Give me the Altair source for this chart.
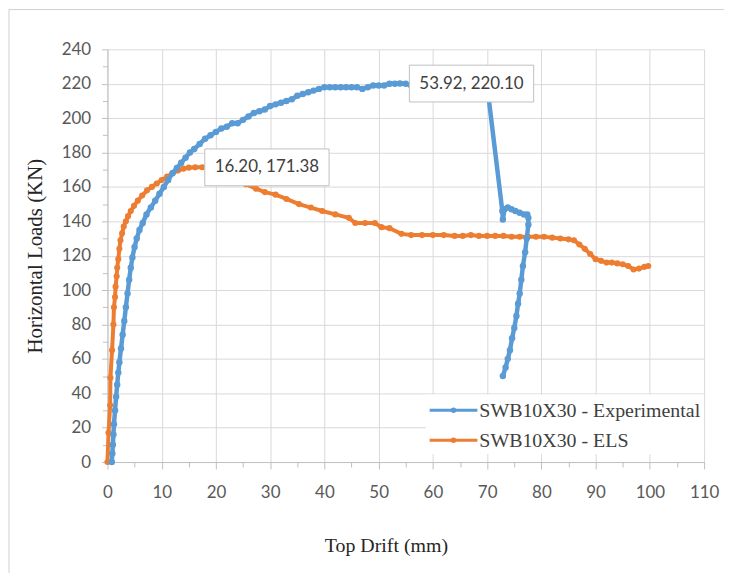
import altair as alt
import pandas as pd

# ---------------- data ----------------
exp_x = [0.8, 0.9, 1.0, 1.1, 1.2, 1.4, 1.6, 1.8, 2.0, 2.2, 2.5, 2.8, 3.1, 3.4, 3.7, 4.0, 4.3, 4.6,
         5.0, 5.4, 5.9, 6.5, 7.2, 8.0, 8.8, 9.6, 10.4, 11.2, 12.0, 12.8, 13.6, 14.4, 15.2, 16.0,
         17.0, 18.0, 19.0, 20.0, 21.0, 22.0, 23.0, 24.0, 25.0, 26.0, 27.0, 28.0, 29.0, 30.0, 31.0,
         32.0, 33.0, 34.0, 35.0, 36.0, 37.0, 38.0, 39.0, 40.0, 41.0, 42.0, 43.0, 44.0, 45.0, 46.0,
         47.0, 48.0, 49.0, 50.0, 51.0, 52.0, 53.0, 53.92, 55.0, 56.0, 58.0, 62.0, 66.0, 70.0,
         72.8, 72.9, 73.2, 73.8, 74.5, 75.2, 76.0, 76.8, 77.4, 77.6, 77.6, 77.3, 77.0, 76.6, 76.3,
         76.0, 75.7, 75.4, 75.0, 74.6, 74.2, 73.8, 73.4, 72.9]
exp_y = [0, 5, 10, 16, 22, 30, 38, 45, 52, 58, 66, 74, 82, 90, 98, 106, 113, 119,
         125, 130, 135, 139, 144, 148, 152, 156, 160, 164, 168, 171, 174, 177, 180, 182,
         185, 188, 190, 192, 194, 195, 197, 197, 199, 201, 203, 204, 205, 207, 208,
         209, 210, 211, 213, 214, 215, 216, 217, 218, 218, 218, 218, 218, 218, 218,
         217, 218, 219, 219, 219, 220, 220, 220.1, 220, 219, 220, 220, 220, 219,
         146, 141, 147, 148, 147, 146, 145, 144, 144, 142, 138, 130, 122, 114, 106,
         98, 92, 85, 78, 72, 65, 60, 55, 50]

els_x = [0.0, 0.2, 0.5, 0.55, 0.85, 1.1, 1.2, 1.4, 1.5, 1.7, 1.8, 2.0, 2.2, 2.4, 2.7, 3.0, 3.4,
         3.8, 4.3, 4.9, 5.6, 6.4, 7.3, 8.2, 9.1, 10.0, 11.0, 12.0, 13.0, 14.0, 15.0, 16.2, 17.5,
         19.0, 20.5, 22.0, 24.0, 25.5, 27.4, 29.0, 31.0, 33.0, 35.3, 37.5, 39.6, 42.0, 44.5,
         45.7, 47.5, 49.3, 50.5, 52.0, 54.2, 56.0, 58.0, 60.0, 62.0, 64.0, 65.5, 67.0, 68.5,
         70.0, 71.5, 73.0, 74.5, 76.0, 77.5, 79.0, 80.5, 82.0, 83.5, 85.0, 86.0, 87.0, 88.0,
         89.0, 90.0, 91.0, 92.0, 93.0, 94.0, 95.0, 96.0, 97.0, 98.0, 99.0, 99.7]
els_y = [0, 17, 33, 49, 65, 80, 90, 96, 102, 108, 113, 118, 124, 129, 133, 137, 140,
         143, 146, 149, 152, 155, 158, 160, 162, 164, 166, 168, 169.5, 170.6, 171.2, 171.38, 171.4,
         171.4, 171.0, 169.0, 165.0, 161.5, 159.0, 157.0, 155.5, 153.0, 150.0, 148.0, 146.0, 144.0, 142.0,
         139.0, 139.0, 139.0, 136.6, 136.0, 132.7, 132.0, 132.0, 132.0, 132.0, 131.5, 131.5, 132.0, 131.5,
         131.5, 131.5, 131.5, 131.0, 131.0, 131.0, 131.0, 131.0, 130.5, 130.0, 129.5, 129.0, 126.5, 124.0,
         121.0, 118.0, 117.0, 116.0, 116.0, 115.5, 115.0, 114.0, 112.0, 112.5, 113.5, 114.0]

series_names = ["SWB10X30 - Experimental", "SWB10X30 - ELS"]
series_colors = ["#5B9BD5", "#ED7D31"]

ann_x = [53.92, 16.20]
ann_y = [220.10, 171.38]
ann_text = ["53.92, 220.10", "16.20, 171.38"]

x_ticks = list(range(0, 111, 5))
y_ticks = list(range(0, 241, 10))

# ---------------- layout ----------------
W, H = 600, 415
XMAX, YMAX = 110, 240
PX_X = W / XMAX
PX_Y = H / YMAX

exp_df = pd.DataFrame({"x": exp_x, "y": exp_y})
els_df = pd.DataFrame({"x": els_x, "y": els_y})

ann = pd.DataFrame({"x": ann_x, "y": ann_y, "text": ann_text})
ann["cx"] = ann["x"] + 72 / PX_X
ann["x0"] = ann["cx"] - 62.5 / PX_X
ann["x1"] = ann["cx"] + 62.5 / PX_X
ann["y0"] = ann["y"] - 18.5 / PX_Y
ann["y1"] = ann["y"] + 18.5 / PX_Y

xscale = alt.Scale(domain=[0, XMAX], nice=False, zero=False)
yscale = alt.Scale(domain=[0, YMAX], nice=False, zero=False)

xaxis = alt.Axis(
    values=x_ticks,
    labelExpr="datum.value % 10 == 0 ? datum.label : ''",
    gridOpacity={"expr": "datum.value % 10 == 0 ? 1 : 0"},
    tickSize={"expr": "datum.value % 10 == 0 ? 7 : 5"},
    labelPadding=16,
    titlePadding=35,
    titleX=280,
    titleAlign="center",
    labelFlush=False,
    labelOverlap=False,
    titleFontSize=20,
)
yaxis = alt.Axis(
    values=y_ticks,
    labelExpr="datum.value % 20 == 0 ? datum.label : ''",
    gridOpacity={"expr": "datum.value % 20 == 0 ? 1 : 0"},
    tickSize={"expr": "datum.value % 20 == 0 ? 6 : 5"},
    labelPadding=11,
    titlePadding=16,
    labelFlush=False,
    labelOverlap=False,
    titleFontSize=21,
)

XT = "Top Drift (mm)"
YT = "Horizontal Loads  (KN)"


def X(field):
    return alt.X(f"{field}:Q", scale=xscale, axis=xaxis, title=XT)


def Y(field):
    return alt.Y(f"{field}:Q", scale=yscale, axis=yaxis, title=YT)


def series_layers(df, color, width, size):
    df2 = df.copy()
    df2["idx"] = range(len(df2))
    base = alt.Chart(df2).encode(x=X("x"), y=Y("y"), order=alt.Order("idx:Q"))
    line = base.mark_line(color=color, strokeWidth=width)
    pts = base.mark_circle(color=color, size=size, opacity=1)
    return [line, pts]


layers = []
layers += series_layers(els_df, series_colors[1], 4, 38)
layers += series_layers(exp_df, series_colors[0], 4.5, 42)

box = alt.Chart(ann).mark_rect(fill="white", stroke="#BFBFBF", strokeWidth=1).encode(
    x=X("x0"), x2="x1", y=Y("y0"), y2="y1"
)
txt = alt.Chart(ann).mark_text(font="Lato", fontSize=17, color="#404040").encode(
    x=X("cx"), y=Y("y"), text="text:N"
)
layers += [box, txt]

# legend (inside the plot, lower right)
one = pd.DataFrame({"a": [0]})
leg_bg = alt.Chart(one).mark_rect(fill="white").encode(
    x=alt.value(320), x2=alt.value(600), y=alt.value(347), y2=alt.value(407)
)
layers.append(leg_bg)
for i, (name, col) in enumerate(zip(series_names, series_colors)):
    yy = 363 + 30 * i
    d = pd.DataFrame({"name": [name]})
    layers.append(alt.Chart(d).mark_rule(color=col, strokeWidth=3).encode(
        x=alt.value(324), x2=alt.value(372), y=alt.value(yy)))
    layers.append(alt.Chart(d).mark_circle(color=col, size=30, opacity=1).encode(
        x=alt.value(348), y=alt.value(yy)))
    layers.append(alt.Chart(d).mark_text(font="Liberation Serif", fontSize=20, color="#404040",
                                         align="left", baseline="middle").encode(
        x=alt.value(374), y=alt.value(yy + 1), text="name:N"))

# chart-area frame (left and top edges)
layers.append(alt.Chart(one).mark_rule(color="#D0D0D0", strokeWidth=1).encode(
    x=alt.value(-99), y=alt.value(-40), y2=alt.value(540)))
layers.append(alt.Chart(one).mark_rule(color="#D0D0D0", strokeWidth=1).encode(
    x=alt.value(-99), x2=alt.value(640), y=alt.value(-40)))

chart = alt.layer(*layers).properties(
    width=W, height=H,
    padding={"left": 100, "top": 40, "right": 20, "bottom": 110},
    autosize="none",
).configure_view(stroke=None).configure_axis(
    domainColor="#BFBFBF",
    tickColor="#BFBFBF",
    gridColor="#D9D9D9",
    gridWidth=1,
    labelFont="Lato",
    labelFontSize=17,
    labelColor="#595959",
    titleFont="Liberation Serif",
    titleFontWeight="normal",
    titleColor="#262626",
)

chart.save("out.html", embed_options={"renderer": "svg", "actions": False})
